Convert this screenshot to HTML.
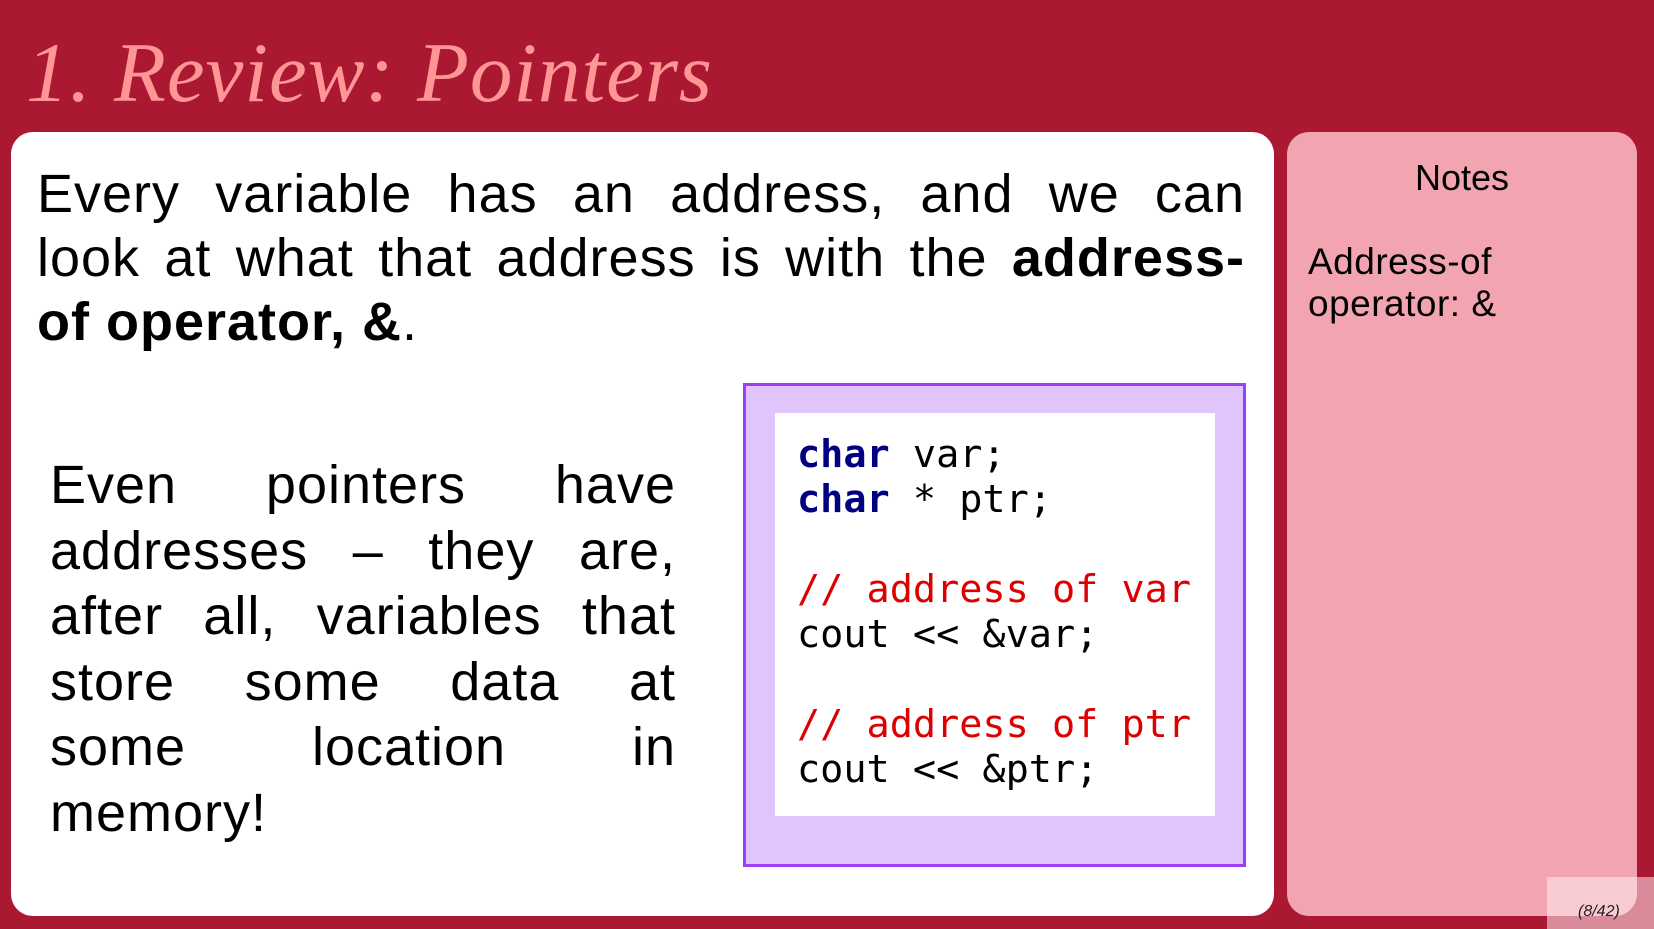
<!DOCTYPE html>
<html><head><meta charset="utf-8"><style>
*{margin:0;padding:0;box-sizing:border-box}
html,body{width:1654px;height:929px;overflow:hidden;background:#ab1831;font-family:"Liberation Sans",sans-serif}
.abs{position:absolute}
#title{left:26px;top:18px;font-family:"Liberation Serif",serif;font-style:italic;font-size:85px;color:#ff9696;line-height:110px;white-space:nowrap;letter-spacing:1px}
#main{left:11px;top:132px;width:1263px;height:784px;background:#fff;border-radius:22px}
#notes{left:1287px;top:132px;width:350px;height:784px;background:#f2a5b0;border-radius:22px}
.p{font-size:54px;color:#000;letter-spacing:1px}
.p div{text-align:justify;text-align-last:justify;white-space:nowrap}
.p div.l{text-align-last:left}
.p1{left:37px;top:162px;width:1208px;line-height:64px}
.p2{left:50px;top:453px;width:626px;line-height:65.5px}
#code{left:743px;top:383px;width:503px;height:484px;background:#e0c4fc;border:3px solid #9c3ef5}
#inner{left:775px;top:413px;width:440px;height:403px;background:#fff}
#codetxt{left:797px;top:432px;font-family:"DejaVu Sans Mono","Liberation Mono",monospace;font-size:38.5px;line-height:45px;white-space:pre;color:#000}
.kw{color:#000080;font-weight:bold}.cm{color:#dd0000}
</style></head><body>
<div id="title" class="abs">1. Review: Pointers</div>
<div id="main" class="abs"></div>
<div id="notes" class="abs"></div>
<div class="abs p p1"><div>Every variable has an address, and we can</div><div>look at what that address is with the <b>address-</b></div><div class="l"><b>of operator, &amp;</b>.</div></div>
<div class="abs p p2"><div>Even pointers have</div><div>addresses – they are,</div><div>after all, variables that</div><div>store some data at</div><div>some location in</div><div class="l">memory!</div></div>
<div id="code" class="abs"></div>
<div id="inner" class="abs"></div>
<div id="codetxt" class="abs"><span class="kw">char</span> var;
<span class="kw">char</span> * ptr;

<span class="cm">// address of var</span>
cout &lt;&lt; &amp;var;

<span class="cm">// address of ptr</span>
cout &lt;&lt; &amp;ptr;</div>
<div class="abs" style="left:1287px;top:156px;width:350px;text-align:center;font-size:36px;line-height:44px">Notes</div>
<div class="abs" style="left:1308px;top:241px;font-size:37px;line-height:42px;letter-spacing:0.5px">Address-of<br>operator: &amp;</div>
<div class="abs" style="left:1547px;top:877px;width:107px;height:52px;background:rgba(255,235,240,0.55)"></div>
<div class="abs" style="left:1578px;top:903px;font-size:16px;font-style:italic;color:#222">(8/42)</div>
</body></html>
